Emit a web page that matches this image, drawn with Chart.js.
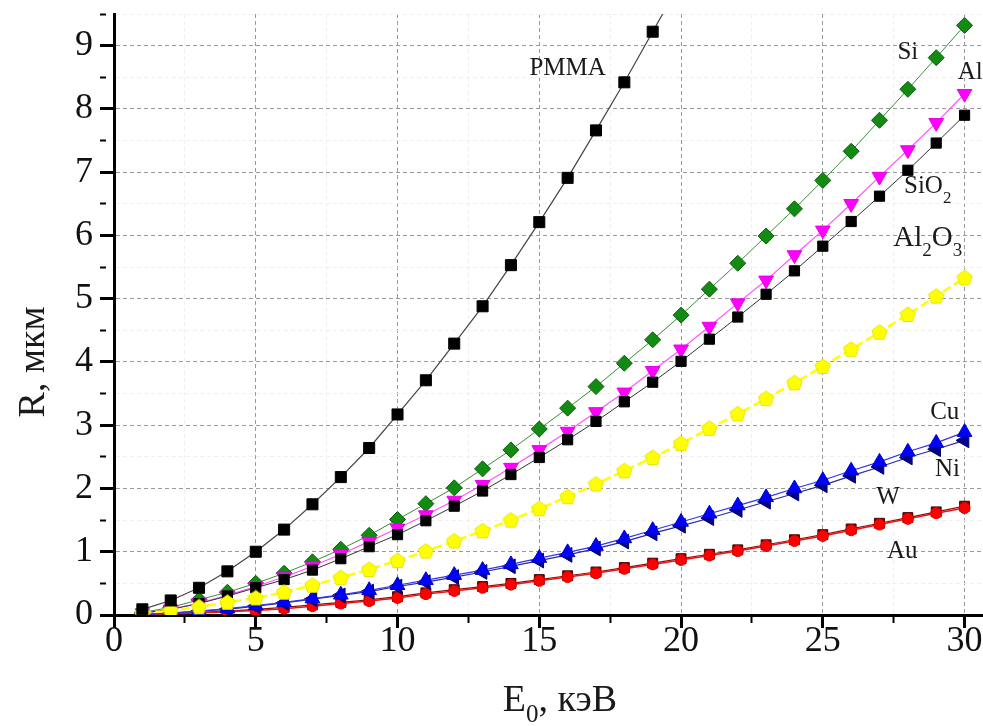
<!DOCTYPE html>
<html>
<head>
<meta charset="utf-8">
<script src="https://cdn.jsdelivr.net/npm/chart.js@4.4.0/dist/chart.umd.min.js"></script>
<style>
  html, body { margin: 0; padding: 0; background: #fff; }
</style>
</head>
<body>
<canvas id="range_chart" width="983" height="726"></canvas>
<script>
// primary energy, keV
const energies = [1, 2, 3, 4, 5, 6, 7, 8, 9, 10, 11, 12, 13, 14, 15, 16, 17, 18, 19, 20,
  21, 22, 23, 24, 25, 26, 27, 28, 29, 30]

// electron range R, um
const pmma = [0.09, 0.23, 0.43, 0.69, 1.00, 1.35, 1.75, 2.18, 2.64, 3.17, 3.71, 4.29, 4.88, 5.53, 6.21,
  6.91, 7.66, 8.42, 9.22, 10.02]
const si = [0.04, 0.12, 0.24, 0.36, 0.50, 0.66, 0.84, 1.04, 1.26, 1.51, 1.76, 2.01, 2.31, 2.61, 2.94,
  3.27, 3.61, 3.98, 4.35, 4.74, 5.15, 5.56, 5.99, 6.42, 6.87, 7.33, 7.82, 8.31, 8.81, 9.32]
const al = [0.03, 0.09, 0.19, 0.31, 0.45, 0.60, 0.77, 0.96, 1.16, 1.37, 1.58, 1.81, 2.06, 2.33, 2.61,
  2.90, 3.21, 3.52, 3.86, 4.20, 4.56, 4.93, 5.29, 5.69, 6.08, 6.50, 6.93, 7.35, 7.78, 8.24]
const sio2 = [0.03, 0.09, 0.18, 0.30, 0.43, 0.56, 0.71, 0.89, 1.08, 1.27, 1.49, 1.72, 1.96, 2.22, 2.49,
  2.77, 3.06, 3.37, 3.68, 4.01, 4.36, 4.71, 5.07, 5.44, 5.83, 6.22, 6.62, 7.03, 7.46, 7.90]
const al2o3 = [0.03, 0.07, 0.13, 0.20, 0.27, 0.36, 0.47, 0.59, 0.72, 0.86, 1.01, 1.17, 1.33, 1.50, 1.68,
  1.87, 2.07, 2.28, 2.49, 2.71, 2.95, 3.18, 3.42, 3.67, 3.93, 4.20, 4.47, 4.75, 5.04, 5.33]
const cu = [0.01, 0.03, 0.06, 0.10, 0.15, 0.20, 0.26, 0.32, 0.39, 0.47, 0.55, 0.63, 0.71, 0.80, 0.90,
  0.99, 1.09, 1.21, 1.34, 1.47, 1.60, 1.73, 1.86, 2.00, 2.13, 2.28, 2.42, 2.58, 2.72, 2.89]
const ni = [0.01, 0.03, 0.06, 0.09, 0.14, 0.19, 0.25, 0.31, 0.37, 0.45, 0.52, 0.60, 0.68, 0.77, 0.86,
  0.95, 1.05, 1.16, 1.29, 1.41, 1.53, 1.66, 1.79, 1.92, 2.05, 2.20, 2.34, 2.49, 2.62, 2.76]
const w = [0.01, 0.02, 0.04, 0.06, 0.09, 0.12, 0.16, 0.20, 0.24, 0.29, 0.35, 0.40, 0.45, 0.50, 0.56,
  0.62, 0.68, 0.75, 0.82, 0.89, 0.96, 1.03, 1.11, 1.19, 1.27, 1.36, 1.45, 1.54, 1.63, 1.72]
const au = [0.005, 0.015, 0.03, 0.05, 0.07, 0.10, 0.14, 0.18, 0.22, 0.27, 0.33, 0.38, 0.43, 0.48, 0.54,
  0.60, 0.66, 0.73, 0.80, 0.87, 0.94, 1.01, 1.09, 1.17, 1.25, 1.34, 1.43, 1.52, 1.61, 1.69]

// curve names placed next to the curves (data units)
const curveLabels = [
  { text: 'PMMA', x: 16.0, y: 8.64 },
  { text: 'Si', x: 28.0, y: 8.89 },
  { text: 'Al', x: 30.2, y: 8.58 },
  { text: 'SiO', sub: '2', x: 28.7, y: 6.78 },
  { text: 'Al', sub: '2', text2: 'O', sub2: '3', x: 28.7, y: 5.95, big: true },
  { text: 'Cu', x: 29.3, y: 3.2 },
  { text: 'Ni', x: 29.4, y: 2.3 },
  { text: 'W', x: 27.3, y: 1.86 },
  { text: 'Au', x: 27.8, y: 1.0 },
]

const SERIF = "'Liberation Serif', 'Times New Roman', serif"

const xy = (vals) => vals.map((v, i) => ({ x: energies[i], y: v }))

// pentagon marker for Al2O3
const pentagon = document.createElement('canvas')
pentagon.width = 17
pentagon.height = 17
{
  const c = pentagon.getContext('2d')
  c.beginPath()
  for (let k = 0; k < 5; k++) {
    const a = -Math.PI / 2 + k * 2 * Math.PI / 5
    const px = 8.5 + 8 * Math.cos(a)
    const py = 9 + 8 * Math.sin(a)
    if (k === 0) c.moveTo(px, py)
    else c.lineTo(px, py)
  }
  c.closePath()
  c.fillStyle = '#ffff00'
  c.fill()
  c.strokeStyle = '#e6e600'
  c.lineWidth = 1
  c.stroke()
}

const series = (data, color, border, line, style, radius, extra) => Object.assign({
  data: data,
  borderColor: line,
  borderWidth: 1.2,
  backgroundColor: color,
  pointBackgroundColor: color,
  pointBorderColor: border,
  pointBorderWidth: 1,
  pointStyle: style,
  pointRadius: radius,
  tension: 0,
}, extra || {})

const curveText = {
  id: 'curveText',
  afterDraw(chart) {
    const ctx = chart.ctx
    const xs = chart.scales.x
    const ys = chart.scales.y
    ctx.save()
    ctx.fillStyle = '#1a1a1a'
    ctx.textBaseline = 'middle'
    curveLabels.forEach((lb) => {
      const big = lb.big ? 29 : 25
      const small = lb.big ? 19 : 17
      const parts = [[lb.text, 0]]
      if (lb.sub) parts.push([lb.sub, 1])
      if (lb.text2) parts.push([lb.text2, 0])
      if (lb.sub2) parts.push([lb.sub2, 1])
      let total = 0
      parts.forEach(([t, s]) => {
        ctx.font = (s ? small : big) + 'px ' + SERIF
        total += ctx.measureText(t).width
      })
      let px = xs.getPixelForValue(lb.x) - total / 2
      const py = ys.getPixelForValue(lb.y)
      parts.forEach(([t, s]) => {
        ctx.font = (s ? small : big) + 'px ' + SERIF
        ctx.textAlign = 'left'
        ctx.fillText(t, px, s ? py + 12 : py)
        px += ctx.measureText(t).width
      })
    })

    // axis titles
    ctx.font = '38px ' + SERIF
    ctx.textAlign = 'left'
    const wE = ctx.measureText('E').width
    const wRest = ctx.measureText(', кэВ').width
    ctx.font = '25px ' + SERIF
    const w0 = ctx.measureText('0').width
    let tx = 560 - (wE + w0 + wRest) / 2
    const ty = 701
    ctx.font = '38px ' + SERIF
    ctx.fillText('E', tx, ty)
    tx += wE
    ctx.font = '25px ' + SERIF
    ctx.fillText('0', tx, ty + 14)
    tx += w0
    ctx.font = '38px ' + SERIF
    ctx.fillText(', кэВ', tx, ty)

    ctx.translate(34, 362)
    ctx.rotate(-Math.PI / 2)
    ctx.textAlign = 'center'
    ctx.font = '38px ' + SERIF
    ctx.fillText('R, мкм', 0, 0)
    ctx.restore()
  },
}

const isMajor = (v, step) => Math.abs(v / step - Math.round(v / step)) < 1e-6

new Chart(document.getElementById('range_chart').getContext('2d'), {
  type: 'line',
  data: {
    datasets: [
      series(xy(pmma), '#000000', '#000000', '#444444', 'rect', 7.8,
        { clip: { left: 10, top: 0, right: 10, bottom: 10 } }),
      series(xy(al2o3), '#ffff00', '#e6e600', '#ffff00', pentagon, 8,
        { borderWidth: 2.5, borderDash: [9, 4] }),
      series(xy(sio2), '#000000', '#000000', '#333333', 'rect', 7.2, { borderWidth: 1 }),
      series(xy(al), '#ff00ff', '#e600e6', '#ff55ff', 'triangle', 8.5,
        { pointRotation: 180, borderWidth: 1.2 }),
      series(xy(si), '#138a13', '#0a5e0a', '#3c8c3c', 'rectRot', 8, { borderWidth: 1 }),
      series(xy(cu), '#0000ff', '#0000cc', '#3333ee', 'triangle', 8.5),
      series(xy(ni), '#00008b', '#000070', '#2a2a9a', 'triangle', 8.5, { pointRotation: -90 }),
      series(xy(au), '#ff0000', '#e00000', '#ee1111', 'circle', 5.5, { borderWidth: 1.5 }),
      series(xy(w), '#8b0000', '#400000', '#8b1010', 'rect', 7, { borderWidth: 1.2 }),
    ],
  },
  options: {
    responsive: false,
    animation: false,
    devicePixelRatio: 1,
    layout: { autoPadding: false, padding: { left: 0, right: 0, top: 14, bottom: 0 } },
    plugins: {
      legend: { display: false },
      tooltip: { enabled: false },
    },
    scales: {
      x: {
        type: 'linear',
        min: 0,
        max: 30.65,
        afterFit(scale) {
          scale.height = 111
          scale.paddingLeft = 0
          scale.paddingRight = 0
        },
        border: { display: true, color: '#000', width: 3, dash: [4, 3] },
        grid: {
          color: (c) => (isMajor(c.tick.value, 5) ? '#9a9a9a' : '#efefef'),
          lineWidth: 1,
          tickLength: 13,
          tickColor: '#000',
          tickWidth: (c) => (isMajor(c.tick.value, 5) ? 3 : 2),
          tickBorderDash: (c) => (isMajor(c.tick.value, 5) ? [] : [6, 40]),
        },
        ticks: {
          stepSize: 2.5,
          includeBounds: false,
          autoSkip: false,
          maxRotation: 0,
          padding: -4,
          color: '#111',
          font: { family: SERIF, size: 36, lineHeight: 1 },
          callback: (v) => (isMajor(v, 5) ? String(v) : ''),
        },
      },
      y: {
        type: 'linear',
        min: 0,
        max: 9.5,
        afterFit(scale) {
          scale.width = 114
          scale.paddingTop = 0
          scale.paddingBottom = 0
        },
        border: { display: true, color: '#000', width: 3, dash: [4, 3] },
        grid: {
          color: (c) => (isMajor(c.tick.value, 1) ? '#9a9a9a' : '#efefef'),
          lineWidth: 1,
          tickLength: 14,
          tickColor: '#000',
          tickWidth: (c) => (isMajor(c.tick.value, 1) ? 3 : 2),
          tickBorderDash: (c) => (isMajor(c.tick.value, 1) ? [] : [6, 40]),
        },
        ticks: {
          stepSize: 0.5,
          includeBounds: false,
          autoSkip: false,
          padding: 7,
          color: '#111',
          font: { family: SERIF, size: 36, lineHeight: 1 },
          callback: (v) => (isMajor(v, 1) ? String(v) : ''),
        },
      },
    },
  },
  plugins: [curveText],
})
</script>
</body>
</html>
